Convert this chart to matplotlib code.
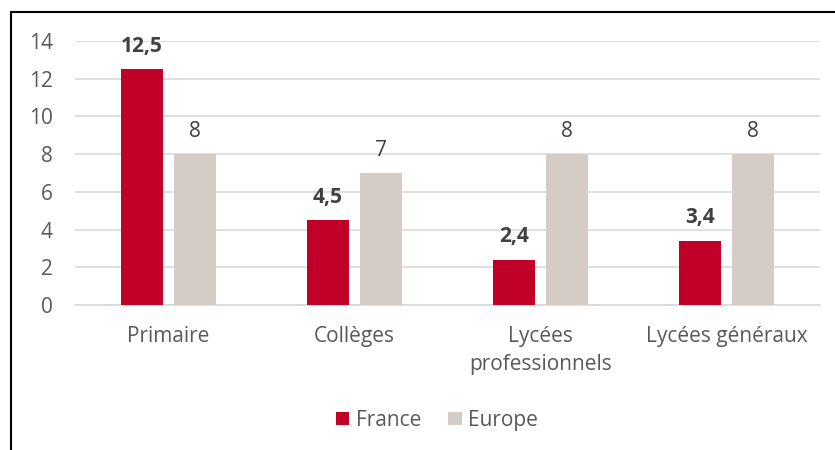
import numpy as np
import matplotlib.pyplot as plt
from matplotlib.patches import Rectangle

plt.rcParams['font.family'] = ['Open Sans', 'DejaVu Sans']

# data
categories = ['Primaire', 'Collèges', 'Lycées\nprofessionnels', 'Lycées généraux']
france = [12.5, 4.5, 2.4, 3.4]
europe = [8, 7, 8, 8]
france_labels = ['12,5', '4,5', '2,4', '3,4']
europe_labels = ['8', '7', '8', '8']

red = '#C00028'
beige = '#D5CCC6'
grey = '#595959'
dark = '#404040'
fs = 15

fig = plt.figure(figsize=(8.35, 4.5), dpi=100)
ax = fig.add_axes([0.0898, 0.322, 0.8922, 0.587])

x = np.arange(len(categories))
w = 0.225
off = 0.1425
b1 = ax.bar(x - off, france, w, color=red, label='France', zorder=3)
b2 = ax.bar(x + off, europe, w, color=beige, label='Europe', zorder=3)

# value labels
for rect, lab in zip(b1, france_labels):
    ax.annotate(lab, (rect.get_x() + rect.get_width() / 2, rect.get_height()),
                xytext=(0, 9), textcoords='offset points', ha='center', va='bottom',
                fontsize=fs, fontweight='bold', color=dark)
for rect, lab in zip(b2, europe_labels):
    ax.annotate(lab, (rect.get_x() + rect.get_width() / 2, rect.get_height()),
                xytext=(0, 9), textcoords='offset points', ha='center', va='bottom',
                fontsize=fs, color=dark)

ax.set_xlim(-0.5, 3.5)
ax.set_ylim(0, 14)
ax.set_yticks(range(0, 15, 2))
ax.set_xticks(x)
ax.set_xticklabels(categories, linespacing=1.45)
ax.tick_params(length=0, labelsize=fs, labelcolor=grey)
ax.tick_params(axis='y', pad=16)
ax.tick_params(axis='x', pad=15)
ax.grid(axis='y', color='#d9d9d9', linewidth=1.2, zorder=0)
for s in ['top', 'right', 'left']:
    ax.spines[s].set_visible(False)
ax.spines['bottom'].set_color('#d9d9d9')
ax.spines['bottom'].set_linewidth(1.2)

leg = fig.legend(loc='center', bbox_to_anchor=(0.523, 0.066), ncol=2, frameon=False,
                 fontsize=fs, handlelength=0.65, handleheight=0.65, handletextpad=0.3,
                 columnspacing=1.3)
for t in leg.get_texts():
    t.set_color(grey)

# outer frame
fig.patches.append(Rectangle((11 / 835, -0.2), 1.0, 1.2 - 12 / 450, transform=fig.transFigure,
                             fill=False, edgecolor='black', linewidth=1.5))

fig.savefig('out.png', dpi=100)
